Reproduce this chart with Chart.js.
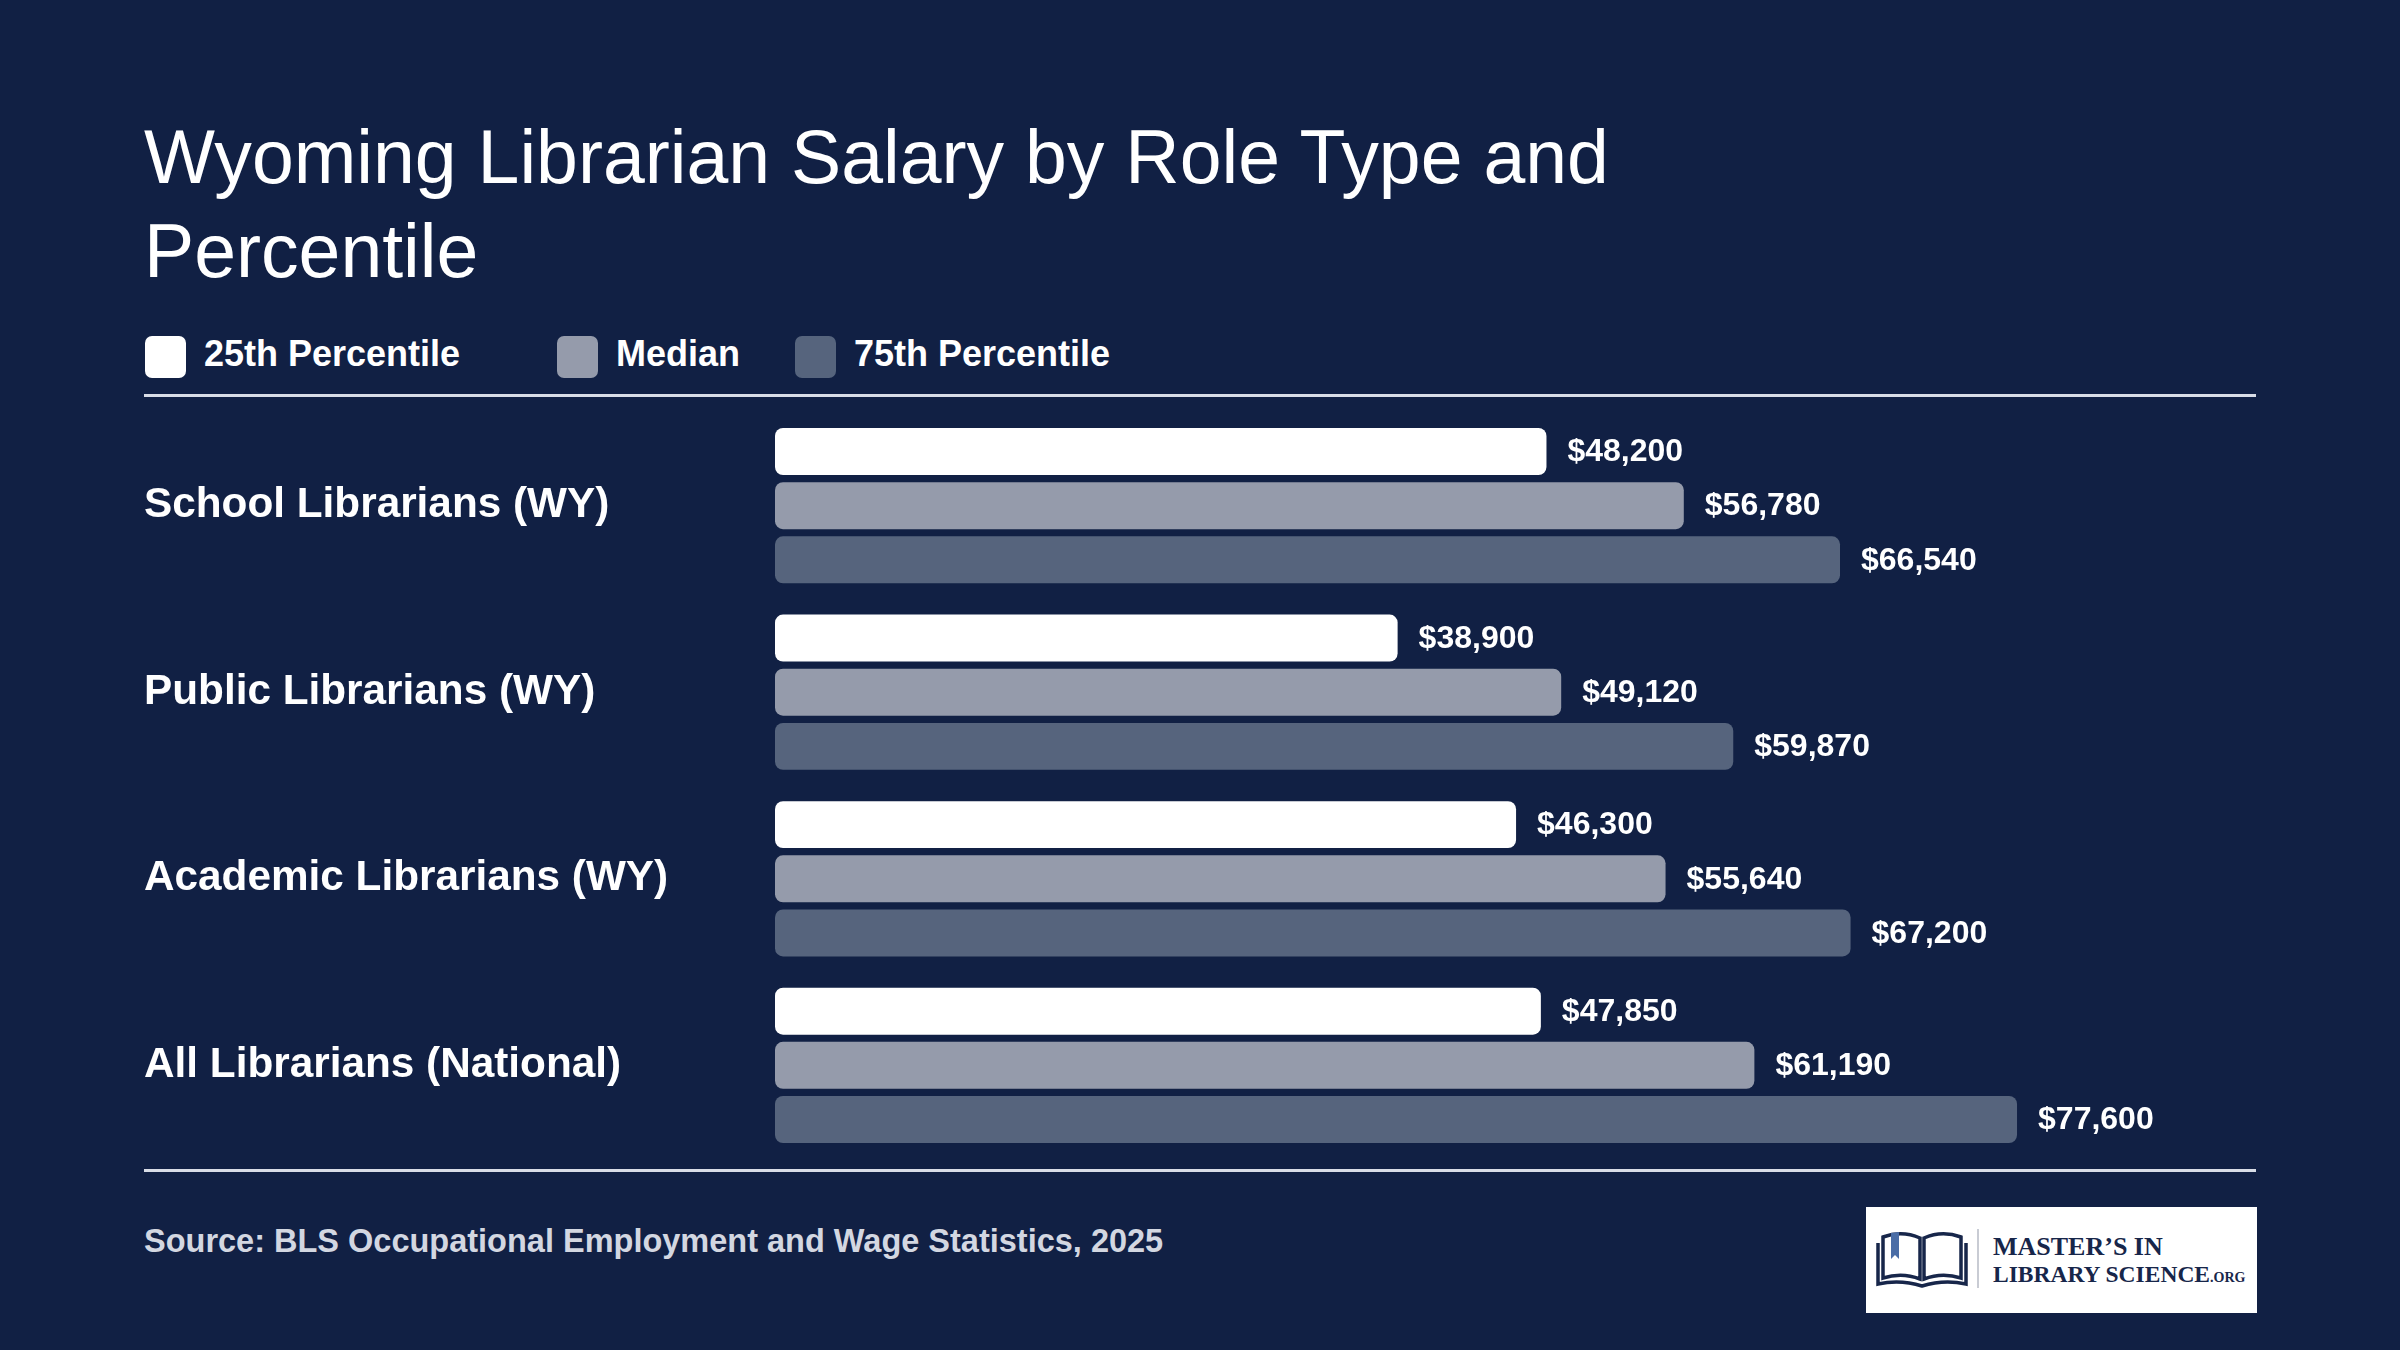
<!DOCTYPE html>
<html>
<head>
<meta charset="utf-8">
<script src="https://cdn.jsdelivr.net/npm/chart.js@4.4.1/dist/chart.umd.min.js"></script>
<style>
  html, body { margin: 0; padding: 0; }
  body {
    width: 2400px; height: 1350px; position: relative; overflow: hidden;
    background: #112044; font-family: "Liberation Sans", Arial, sans-serif; color: #fff;
  }
  .title {
    position: absolute; left: 144px; top: 110px; width: 1600px;
    font-size: 75.2px; line-height: 94px; font-weight: normal;
  }
  .legendItem { position: absolute; top: 333px; height: 42px; }
  .legendBox { position: absolute; top: 3px; width: 41px; height: 42px; border-radius: 7px; }
  .legendText { position: absolute; top: 0; font-size: 36px; line-height: 42px; font-weight: bold; white-space: nowrap; }
  .rule { position: absolute; left: 144px; width: 2112px; height: 3px; background: #d9dde7; }
  #chartWrap { position: absolute; left: 144px; top: 384px; }
  .source {
    position: absolute; left: 144px; top: 1225px; font-size: 32.5px; line-height: 32px;
    font-weight: bold; color: #d3d7e1;
  }
  .logo { position: absolute; left: 1866px; top: 1207px; width: 391px; height: 106px; background: #fff; }
  .logoText { position: absolute; left: 127px; font-family: "Liberation Serif", "Times New Roman", serif; color: #17264a; white-space: nowrap; }
</style>
</head>
<body>
<div class="title">Wyoming Librarian Salary by Role Type and Percentile</div>
<div id="legend"></div>
<div class="rule" style="top:394px"></div>
<div id="chartWrap"><canvas id="salaryChart" width="2112" height="803"></canvas></div>
<div class="rule" style="top:1169px"></div>
<div class="source">Source: BLS Occupational Employment and Wage Statistics, 2025</div>
<div class="logo">
  <svg style="position:absolute;left:10px;top:22px" width="92" height="62" viewBox="0 0 92 62">
    <path d="M2,14 L2,55 Q24,50 46,57 Q68,50 90,55 L90,14" fill="none" stroke="#17264a" stroke-width="3.5"/>
    <path d="M7,8 Q26,1 44,9 L44,50 Q26,43 7,49 Z" fill="#fff" stroke="#17264a" stroke-width="3.5"/>
    <path d="M48,9 Q66,1 85,8 L85,49 Q66,43 48,50 Z" fill="#fff" stroke="#17264a" stroke-width="3.5"/>
    <polygon points="15,4 23,3 23,30 19,26 15,30" fill="#4a6da6"/>
  </svg>
  <div style="position:absolute;left:111px;top:22px;width:2px;height:59px;background:#c9ccd4"></div>
  <div class="logoText" style="top:27px;font-size:26px;line-height:26px;font-weight:bold;">MASTER’S IN</div>
  <div class="logoText" style="top:54px;font-size:23.5px;line-height:27px;font-weight:bold;">LIBRARY SCIENCE<span style="font-size:14px">.ORG</span></div>
</div>

<script>
const roles = [
  "School Librarians (WY)",
  "Public Librarians (WY)",
  "Academic Librarians (WY)",
  "All Librarians (National)"
];
const p25Salaries = [48200, 38900, 46300, 47850];
const medianSalaries = [56780, 49120, 55640, 61190];
const p75Salaries = [66540, 59870, 67200, 77600];

const seriesNames = ["25th Percentile", "Median", "75th Percentile"];
const seriesColors = ["#ffffff", "#959bab", "#56647d"];
const legendLeft = [145, 557, 795];

function money(value) {
  return "$" + value.toLocaleString("en-US");
}

// legend as plain html, positioned like the original
const legend = document.getElementById("legend");
seriesNames.forEach((name, i) => {
  const item = document.createElement("div");
  item.className = "legendItem";
  item.style.left = legendLeft[i] + "px";
  item.innerHTML = `
    <div class="legendBox" style="background:${seriesColors[i]}"></div>
    <div class="legendText" style="left:59px">${name}</div>
  `;
  legend.appendChild(item);
});

const valueLabels = {
  id: "valueLabels",
  afterDatasetsDraw(chart) {
    const ctx = chart.ctx;
    ctx.save();
    ctx.font = "bold 32px 'Liberation Sans', Arial, sans-serif";
    ctx.fillStyle = "#ffffff";
    ctx.textAlign = "left";
    ctx.textBaseline = "middle";
    chart.data.datasets.forEach((dataset, i) => {
      const meta = chart.getDatasetMeta(i);
      meta.data.forEach((bar, j) => {
        ctx.fillText(money(dataset.data[j]), bar.x + 21, bar.y + 1);
      });
    });
    ctx.restore();
  }
};

const datasets = [p25Salaries, medianSalaries, p75Salaries].map((values, i) => ({
  label: seriesNames[i],
  data: values,
  backgroundColor: seriesColors[i],
  borderWidth: 0,
  borderRadius: 8,
  borderSkipped: false,
  categoryPercentage: 0.871,
  barPercentage: 0.867
}));

new Chart(document.getElementById("salaryChart"), {
  type: "bar",
  data: { labels: roles, datasets: datasets },
  options: {
    indexAxis: "y",
    responsive: false,
    animation: false,
    devicePixelRatio: 1,
    layout: { padding: 0 },
    plugins: {
      legend: { display: false },
      tooltip: { enabled: false }
    },
    scales: {
      x: {
        display: false,
        min: 0,
        max: 92530
      },
      y: {
        grid: { display: false },
        border: { display: false },
        ticks: {
          color: "#ffffff",
          crossAlign: "far",
          font: { family: "'Liberation Sans', Arial, sans-serif", size: 42.3, weight: "bold" }
        },
        afterFit(scale) {
          scale.width = 631;
        }
      }
    }
  },
  plugins: [valueLabels]
});
</script>
</body>
</html>
